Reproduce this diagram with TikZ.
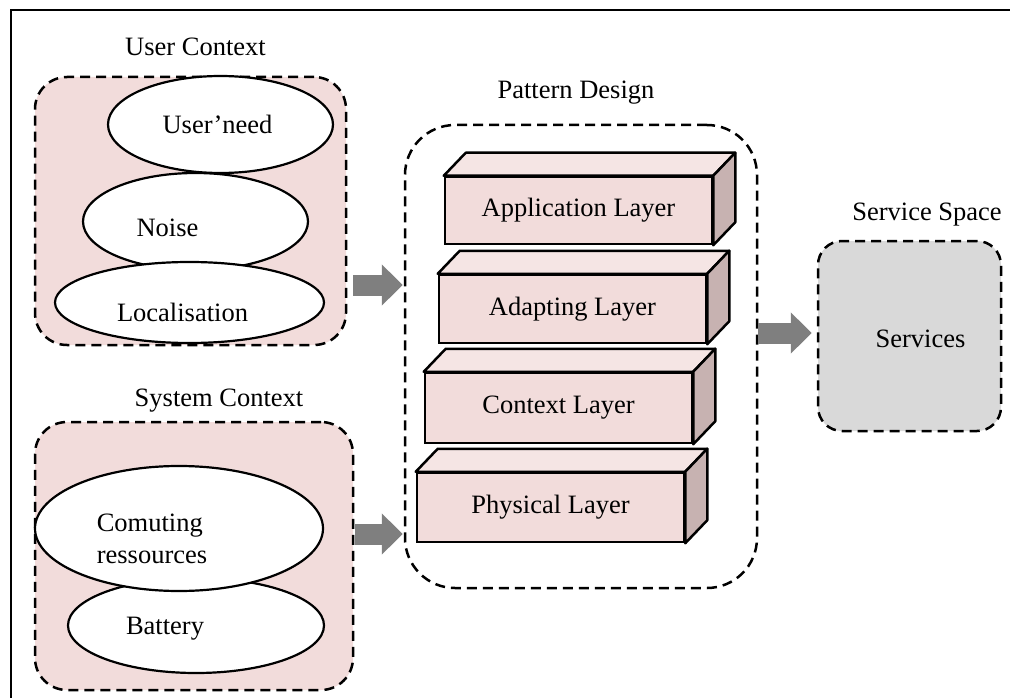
\documentclass[tikz,border=0pt]{standalone}
\usepackage{fontspec}
\setmainfont{Liberation Serif}
\usetikzlibrary{shapes.geometric,arrows.meta,calc}
\definecolor{pinkfill}{HTML}{F2DCDB}
\definecolor{pinktop}{HTML}{F5E5E4}
\definecolor{pinkside}{HTML}{C7B2B1}
\definecolor{servfill}{HTML}{D9D9D9}
\definecolor{arrowgray}{HTML}{7F7F7F}
\begin{document}
\begin{tikzpicture}[x=1pt,y=-1pt,
  every node/.style={font=\fontsize{26.5}{31.8}\selectfont},
  dashbox/.style={draw, dash pattern=on 10pt off 6pt, line width=2.5pt, inner sep=0pt},
  ctxbox/.style={dashbox, rounded corners=32pt, fill=pinkfill},
  oval/.style={ellipse, draw, line width=2.2pt, fill=white, inner sep=0pt},
  layer/.style={draw, line width=2.5pt, fill=pinkfill, minimum width=267pt, inner sep=0pt},
  facetop/.style={draw, line width=2.5pt, line join=round, fill=pinktop},
  faceside/.style={draw, line width=2.5pt, line join=round, fill=pinkside},
  bigarrow/.style={line width=21pt, arrowgray, -{Triangle[length=21pt,width=40pt]}},
  title/.style={inner sep=0pt}
]
\useasboundingbox (0,0) rectangle (1010,698);
% frame
\draw[line width=2.4pt] (11,698) -- (11,10) -- (1010,10);

% titles
\node[title] (tuc) at (195.5,47) {User Context};
\node[title] (tsc) at (219,401) {System Context};
\node[title] (tpd) at (576,93) {Pattern Design};
\node[title] (tss) at (927,215) {Service Space};

% containers
\node[ctxbox, minimum width=311pt, minimum height=268pt] (uc) at (190.5,211) {};
\node[ctxbox, minimum width=318pt, minimum height=268pt] (sc) at (194,556) {};
\node[dashbox, rounded corners=50pt, minimum width=352pt, minimum height=463pt] (pd) at (581,356.5) {};
\node[dashbox, rounded corners=24pt, fill=servfill, minimum width=183pt, minimum height=190pt,
      label={[xshift=11pt,yshift=-3pt]center:Services}] (ss) at (909.5,336) {};

% user context ellipses
\node[oval, minimum width=225pt, minimum height=97pt,
      label={[xshift=-3pt]center:User’need}] (need) at (220.5,124.5) {};
\node[oval, minimum width=225pt, minimum height=97pt,
      label={[xshift=-28pt,yshift=-6pt]center:Noise}] (noise) at (195.5,221.5) {};
\node[oval, minimum width=269pt, minimum height=81pt,
      label={[xshift=-7pt,yshift=-10pt]center:Localisation}] (loc) at (189.5,302.5) {};

% system context ellipses
\node[oval, minimum width=256pt, minimum height=95pt,
      label={[xshift=-31pt,yshift=-3pt]center:Battery}] (batt) at (196,625.5) {};
\node[oval, minimum width=288pt, minimum height=125pt,
      label={[xshift=-27pt,yshift=-10pt,align=left]center:Comuting\\ressources}] (comp) at (179,528.5) {};

% layers
\node[layer, minimum height=67pt] (app) at (578.5,210.5) {Application Layer};
\node[layer, minimum height=68pt] (adp) at (572.5,309) {Adapting Layer};
\node[layer, minimum height=70pt] (ctx) at (558.5,408) {Context Layer};
\node[layer, minimum height=69pt] (phy) at (550.5,507.5) {Physical Layer};
\foreach \n in {app,adp,ctx,phy}{
  \draw[facetop] (\n.north west) -- ++(22,-23) -- ($(\n.north east)+(22,-23)$) -- (\n.north east) -- cycle;
  \draw[faceside] (\n.north east) -- ++(22,-23) -- ($(\n.south east)+(22,-23)$) -- (\n.south east) -- cycle;
}

% arrows
\path (uc.east |- 0,285) coordinate (a1s);
\path (pd.east |- 0,333) coordinate (a2s);
\path (sc.east |- 0,534) coordinate (a3s);
\draw[bigarrow] ([xshift=6pt]a1s) -- ([xshift=-1pt]pd.west |- a1s);
\draw[bigarrow] (a2s) -- ([xshift=-5pt]ss.west |- a2s);
\draw[bigarrow] ([xshift=1pt]a3s) -- ([xshift=-1pt]pd.west |- a3s);
\end{tikzpicture}
\end{document}
